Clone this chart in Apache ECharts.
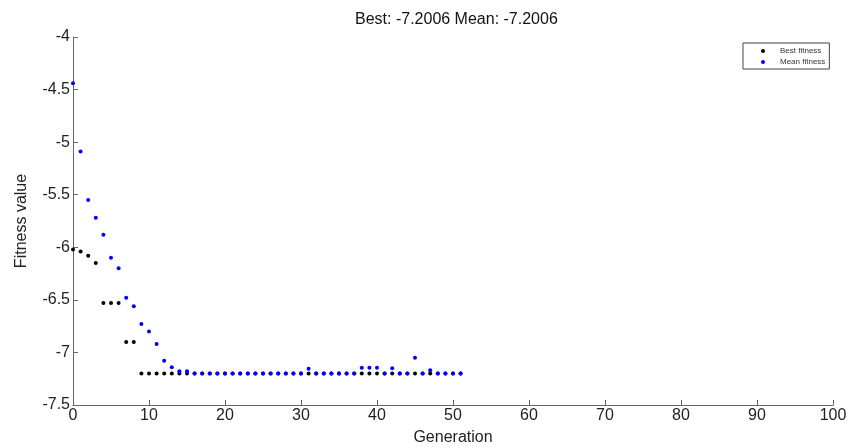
<!DOCTYPE html>
<html>
<head>
<meta charset="utf-8">
<script src="https://cdn.jsdelivr.net/npm/echarts@6/dist/echarts.min.js"></script>
<style>html,body{margin:0;padding:0;background:#fff}#c{width:849px;height:448px}</style>
</head>
<body>
<div id="c"></div>
<script>
const generations = [0,1,2,3,4,5,6,7,8,9,10,11,12,13,14,15,16,17,18,19,20,21,22,23,24,25,26,27,28,29,30,31,32,33,34,35,36,37,38,39,40,41,42,43,44,45,46,47,48,49,50,51];
const bestFitness = [-6.02,-6.04,-6.08,-6.15,-6.53,-6.53,-6.53,-6.90,-6.90,
  -7.2006,-7.2006,-7.2006,-7.2006,-7.2006,-7.2006,-7.2006,-7.2006,-7.2006,-7.2006,
  -7.2006,-7.2006,-7.2006,-7.2006,-7.2006,-7.2006,-7.2006,-7.2006,-7.2006,-7.2006,
  -7.2006,-7.2006,-7.2006,-7.2006,-7.2006,-7.2006,-7.2006,-7.2006,-7.2006,-7.2006,
  -7.2006,-7.2006,-7.2006,-7.2006,-7.2006,-7.2006,-7.2006,-7.2006,-7.2006,-7.2006,
  -7.2006,-7.2006,-7.2006];
const meanFitness = [-4.44,-5.09,-5.55,-5.72,-5.88,-6.10,-6.20,-6.48,-6.56,-6.73,-6.80,-6.92,-7.08,-7.14,-7.18,-7.18,
  -7.2006,-7.2006,-7.2006,-7.2006,-7.2006,-7.2006,-7.2006,-7.2006,-7.2006,-7.2006,-7.2006,-7.2006,-7.2006,-7.2006,-7.2006,
  -7.155,
  -7.2006,-7.2006,-7.2006,-7.2006,-7.2006,-7.2006,
  -7.145,-7.145,-7.145,
  -7.2006,
  -7.15,
  -7.2006,-7.2006,
  -7.05,
  -7.2006,
  -7.17,
  -7.2006,-7.2006,-7.2006,-7.2006];
const xTicks = {min: 0, max: 100, interval: 10};
const yTicks = {min: -7.5, max: -4, interval: 0.5};
const titleText = 'Best: -7.2006 Mean: -7.2006';

const font = 'Liberation Sans, Arial, sans-serif';
const chart = echarts.init(document.getElementById('c'), null, {renderer: 'canvas'});
chart.setOption({
  backgroundColor: '#fff',
  animation: false,
  title: {
    text: titleText, left: 350, top: 7,
    textStyle: {fontFamily: font, fontSize: 16, fontWeight: 'normal', color: '#111'}
  },
  legend: {
    left: 743, top: 43, orient: 'vertical',
    padding: [3, 4, 2, 18],
    itemGap: 1, itemWidth: 24, itemHeight: 4,
    borderColor: '#444', borderWidth: 1,
    icon: 'circle',
    textStyle: {fontFamily: font, fontSize: 8, color: '#333', lineHeight: 10},
    data: ['Best fitness', 'Mean fitness']
  },
  grid: {left: 73, right: 16, top: 37, bottom: 43, containLabel: false, outerBoundsMode: 'none'},
  xAxis: {
    type: 'value', min: xTicks.min, max: xTicks.max, interval: xTicks.interval,
    name: 'Generation', nameLocation: 'middle', nameGap: 25,
    nameTextStyle: {fontFamily: font, fontSize: 16, color: '#222'},
    axisLine: {lineStyle: {color: '#666', width: 1}},
    axisTick: {inside: true, length: 5, lineStyle: {color: '#666'}},
    axisLabel: {fontFamily: font, fontSize: 16, color: '#222', margin: 3},
    splitLine: {show: false}
  },
  yAxis: {
    type: 'value', min: yTicks.min, max: yTicks.max, interval: yTicks.interval,
    name: 'Fitness value', nameLocation: 'middle', nameGap: 43,
    nameTextStyle: {fontFamily: font, fontSize: 16, color: '#222'},
    axisLine: {show: true, lineStyle: {color: '#666', width: 1}},
    axisTick: {show: true, inside: true, length: 5, lineStyle: {color: '#666'}},
    axisLabel: {fontFamily: font, fontSize: 16, color: '#222', margin: 3},
    splitLine: {show: false}
  },
  series: [
    {
      name: 'Best fitness', type: 'scatter', symbol: 'circle', symbolSize: 4,
      itemStyle: {color: '#000', opacity: 1},
      data: generations.map((g, i) => [g, bestFitness[i]])
    },
    {
      name: 'Mean fitness', type: 'scatter', symbol: 'circle', symbolSize: 4,
      itemStyle: {color: '#0000ff', opacity: 1},
      data: generations.map((g, i) => [g, meanFitness[i]])
    }
  ]
});
</script>
</body>
</html>
